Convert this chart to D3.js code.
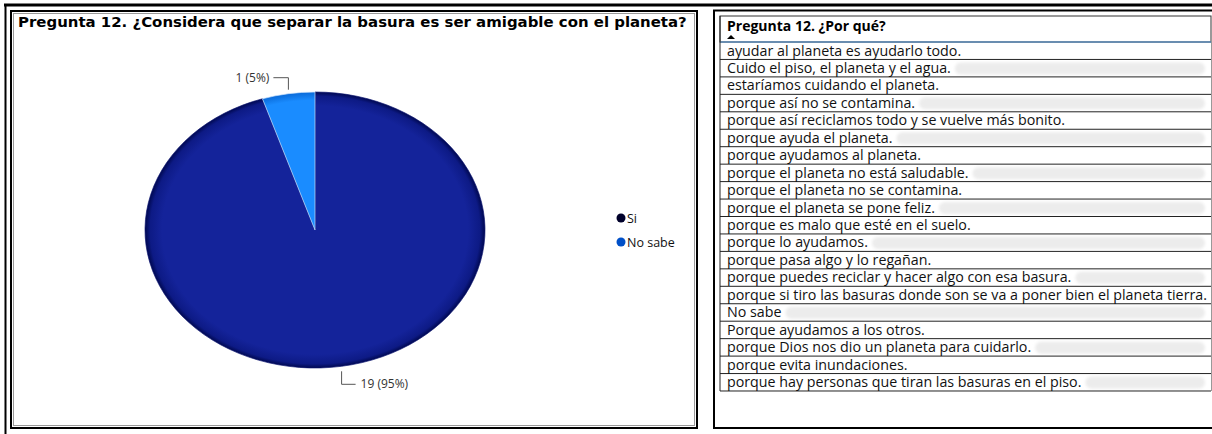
<!DOCTYPE html>
<html>
<head>
<meta charset="utf-8">
<script src="https://cdn.jsdelivr.net/npm/d3@7/dist/d3.min.js"></script>
<style>
  body { margin: 0; background: #fff; }
  svg { display: block; }
</style>
</head>
<body>
<svg id="chart" width="1212" height="434"></svg>
<script>
// pie data
var categories = ["Si", "No sabe"];
var counts = [19, 1];
var percents = ["95%", "5%"];
var sliceColors = ["#14239a", "#1a8cff"];
var legendColors = ["#00002a", "#0050c8"];

// table data
var chartTitle = "Pregunta 12. ¿Considera que separar la basura es ser amigable con el planeta?";
var tableTitle = "Pregunta 12. ¿Por qué?";
var answers = [
  "ayudar al planeta es ayudarlo todo.",
  "Cuido el piso, el planeta y el agua.",
  "estaríamos cuidando el planeta.",
  "porque así no se contamina.",
  "porque así reciclamos todo y se vuelve más bonito.",
  "porque ayuda el planeta.",
  "porque ayudamos al planeta.",
  "porque el planeta no está saludable.",
  "porque el planeta no se contamina.",
  "porque el planeta se pone feliz.",
  "porque es malo que esté en el suelo.",
  "porque lo ayudamos.",
  "porque pasa algo y lo regañan.",
  "porque puedes reciclar y hacer algo con esa basura.",
  "porque si tiro las basuras donde son se va a poner bien el planeta tierra.",
  "No sabe",
  "Porque ayudamos a los otros.",
  "porque Dios nos dio un planeta para cuidarlo.",
  "porque evita inundaciones.",
  "porque hay personas que tiran las basuras en el piso."
];

var svg = d3.select("#chart");

// frame lines
svg.append("line").attr("x1", 4).attr("x2", 1212).attr("y1", 5).attr("y2", 5)
    .attr("stroke", "#000").attr("stroke-width", 3);
svg.append("line").attr("x1", 5.5).attr("x2", 5.5).attr("y1", 4).attr("y2", 434)
    .attr("stroke", "#000").attr("stroke-width", 2);

// left panel box
svg.append("rect").attr("x", 11).attr("y", 11).attr("width", 686).attr("height", 417)
    .attr("fill", "none").attr("stroke", "#000").attr("stroke-width", 2);
svg.append("rect").attr("x", 13.5).attr("y", 13.5).attr("width", 681).attr("height", 412)
    .attr("fill", "none").attr("stroke", "#999").attr("stroke-width", 1);

// right panel box
svg.append("path").attr("d", "M1212,10.5H714V428H1212")
    .attr("fill", "none").attr("stroke", "#000").attr("stroke-width", 2);

// title, fitted to width
var title = svg.append("text")
    .attr("x", 18).attr("y", 27)
    .attr("font-family", "DejaVu Sans")
    .attr("font-weight", "bold")
    .attr("font-size", 15)
    .text(chartTitle);
var tw = title.node().getComputedTextLength();
title.attr("font-size", 15 * 669 / tw);

// pie
var R = 138, sx = 170 / 138;
var cx = 315, cy = 230;

var defs = svg.append("defs");
var grad = defs.append("radialGradient").attr("id", "siGrad")
    .attr("gradientUnits", "userSpaceOnUse")
    .attr("cx", 0).attr("cy", 0).attr("r", R);
grad.append("stop").attr("offset", "0.9").attr("stop-color", sliceColors[0]);
grad.append("stop").attr("offset", "0.97").attr("stop-color", "#0d1a85");
grad.append("stop").attr("offset", "1").attr("stop-color", "#000850");
var grad2 = defs.append("radialGradient").attr("id", "nsGrad")
    .attr("gradientUnits", "userSpaceOnUse")
    .attr("cx", 0).attr("cy", 0).attr("r", R);
grad2.append("stop").attr("offset", "0.94").attr("stop-color", sliceColors[1]);
grad2.append("stop").attr("offset", "1").attr("stop-color", "#0a6ad8");

var pieData = categories.map(function(c, i) {
    return { name: c, value: counts[i], pct: percents[i] };
});
var pie = d3.pie().sort(null).value(function(d) { return d.value; });
var arcs = pie(pieData);
var arc = d3.arc().innerRadius(0).outerRadius(R);

var pieG = svg.append("g")
    .attr("transform", "translate(" + cx + "," + cy + ") scale(" + sx + ",1)");
pieG.selectAll("path")
    .data(arcs)
    .enter()
    .append("path")
    .attr("d", arc)
    .attr("fill", function(d, i) { return i === 0 ? "url(#siGrad)" : "url(#nsGrad)"; })
    .attr("stroke", function(d, i) { return i === 0 ? "#0a1470" : "#cfe6ff"; })
    .attr("stroke-width", 0.6);

// leader lines and labels
arcs.forEach(function(d) {
    var a = (d.startAngle + d.endAngle) / 2;
    var px = cx + sx * R * Math.sin(a);
    var py = cy - R * Math.cos(a);
    var up = Math.cos(a) > 0;
    var y0 = up ? py - 4 : py + 5;
    var y1 = up ? py - 16 : py + 18;
    var x1 = up ? px - 15 : px + 14;
    svg.append("path")
        .attr("d", "M" + px + "," + y0 + "V" + y1 + "H" + x1)
        .attr("fill", "none").attr("stroke", "#555").attr("stroke-width", 1);
    svg.append("text")
        .attr("x", up ? x1 - 4 : x1 + 5)
        .attr("y", y1 + 4)
        .attr("text-anchor", up ? "end" : "start")
        .attr("font-family", "Open Sans")
        .attr("font-size", 12)
        .attr("fill", "#333")
        .text(d.data.value + " (" + d.data.pct + ")");
});

// legend
var legend = svg.append("g").attr("transform", "translate(621,218)");
var items = legend.selectAll("g")
    .data(categories)
    .enter()
    .append("g")
    .attr("transform", function(d, i) { return "translate(0," + i * 24 + ")"; });
items.append("circle").attr("r", 4.5)
    .attr("fill", function(d, i) { return legendColors[i]; });
items.append("text").attr("x", 6).attr("y", 4.5)
    .attr("font-family", "Open Sans").attr("font-size", 12.5).attr("fill", "#111")
    .text(function(d) { return d; });

// table
var tx = 720, tRight = 1211, headTop = 16, headBot = 42, rowH = 17.45;
svg.append("rect").attr("x", tx).attr("y", headTop).attr("width", tRight - tx).attr("height", headBot - headTop)
    .attr("fill", "#fff").attr("stroke", "#333").attr("stroke-width", 1);
svg.append("text").attr("x", 727).attr("y", 31)
    .attr("font-family", "Open Sans").attr("font-weight", "bold").attr("font-size", 14)
    .text(tableTitle);
svg.append("path").attr("d", "M727,39L731,35L735,39Z").attr("fill", "#000");
svg.append("line").attr("x1", tx).attr("x2", tRight).attr("y1", headBot).attr("y2", headBot)
    .attr("stroke", "#5a8ab8").attr("stroke-width", 1.5);

var blur = defs.append("filter").attr("id", "soft");
blur.append("feGaussianBlur").attr("stdDeviation", 1.5);

var rowScale = d3.scaleBand().domain(d3.range(answers.length))
    .range([headBot, headBot + rowH * answers.length]);

var rows = svg.selectAll("g.row")
    .data(answers)
    .enter()
    .append("g")
    .attr("class", "row")
    .attr("transform", function(d, i) { return "translate(0," + rowScale(i) + ")"; });

rows.append("line").attr("x1", tx).attr("x2", tRight).attr("y1", rowH).attr("y2", rowH)
    .attr("stroke", "#222").attr("stroke-width", 1);

var labels = rows.append("text")
    .attr("x", 727).attr("y", 13.5)
    .attr("font-family", "Open Sans").attr("font-size", 12.5).attr("fill", "#111")
    .text(function(d) { return d; });

// fit font so the longest answer spans the column
var longest = d3.max(labels.nodes(), function(n) { return n.getComputedTextLength(); });
var fs = 12.5 * 480 / longest;
labels.attr("font-size", fs);

// faint band after text on alternating rows
rows.each(function(d, i) {
    if (i % 2 === 1) {
        var w = labels.nodes()[i].getComputedTextLength();
        var x0 = 727 + w + 4;
        if (x0 < 1200) {
            d3.select(this).insert("rect", "text")
                .attr("x", x0).attr("y", 3).attr("width", 1205 - x0).attr("height", 12)
                .attr("rx", 6).attr("fill", "#ececec").attr("filter", "url(#soft)");
        }
    }
});

svg.append("line").attr("x1", tx).attr("x2", tx).attr("y1", headTop).attr("y2", headBot + rowH * answers.length)
    .attr("stroke", "#222").attr("stroke-width", 1);
svg.append("line").attr("x1", tRight + 0.5).attr("x2", tRight + 0.5).attr("y1", headTop).attr("y2", headBot + rowH * answers.length)
    .attr("stroke", "#999").attr("stroke-width", 1);
</script>
</body>
</html>
